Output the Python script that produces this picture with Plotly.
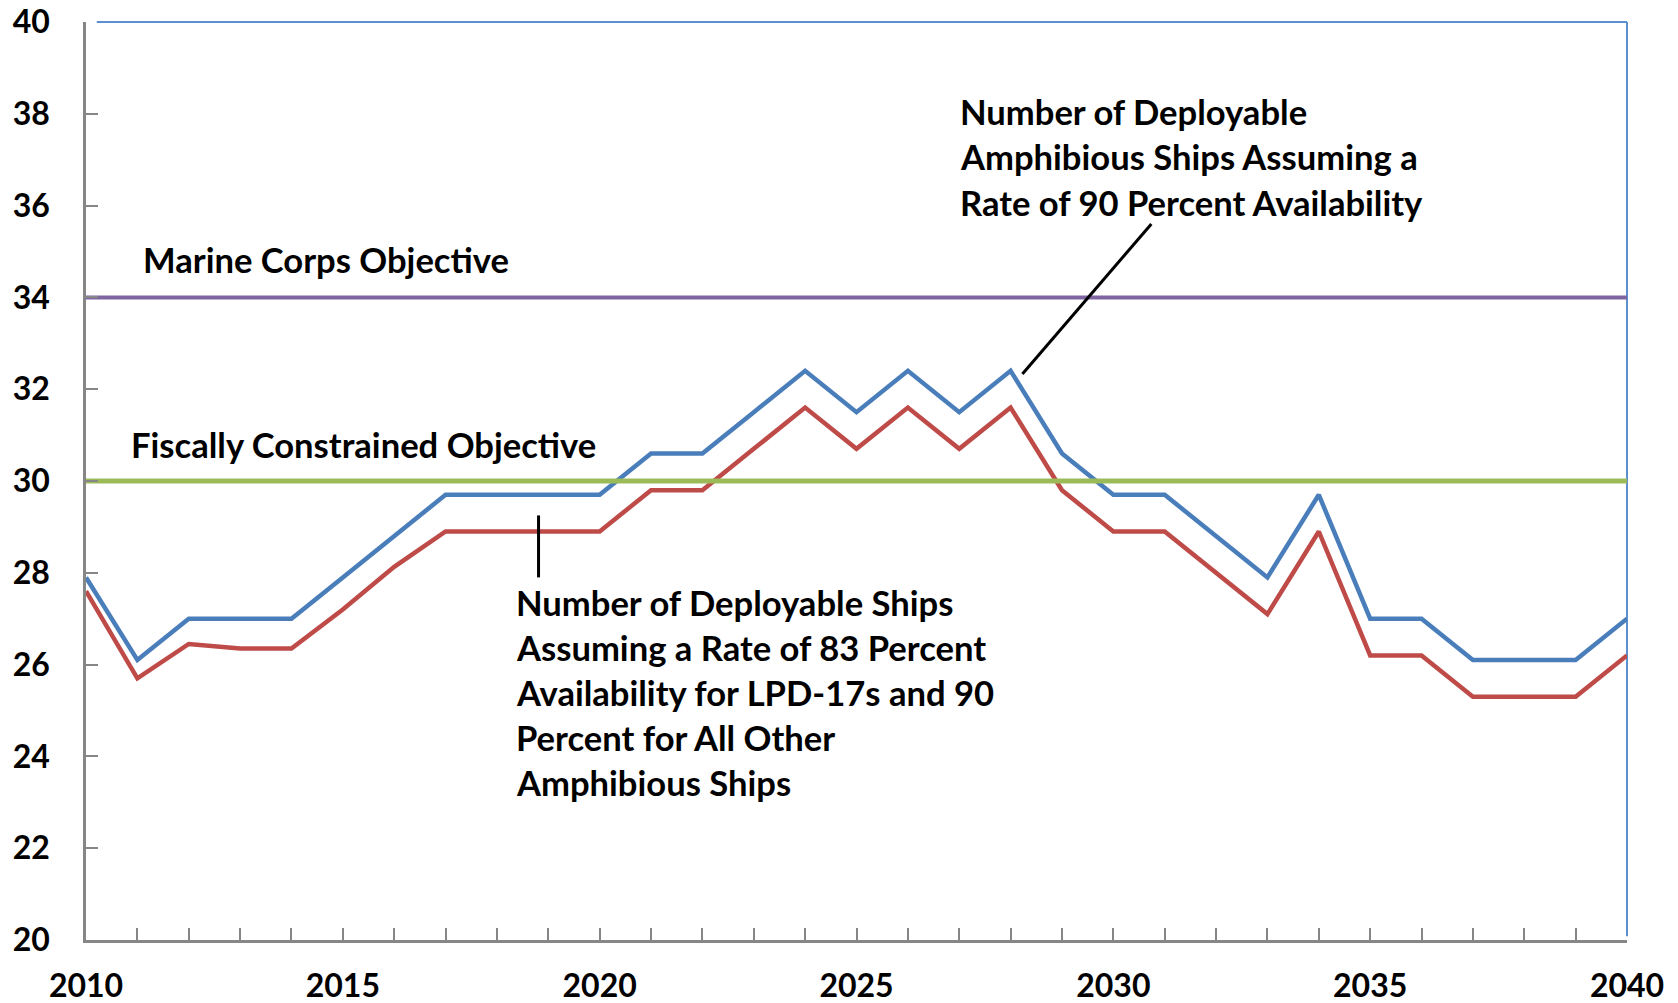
import plotly.graph_objects as go

years = list(range(2010, 2041))
deployable_90 = [27.9, 26.1, 27.0, 27.0, 27.0, 27.9, 28.8, 29.7, 29.7, 29.7, 29.7,
                 30.6, 30.6, 31.5, 32.4, 31.5, 32.4, 31.5, 32.4, 30.6, 29.7,
                 29.7, 28.8, 27.9, 29.7, 27.0, 27.0, 26.1, 26.1, 26.1, 27.0]
deployable_83 = [27.6, 25.7, 26.45, 26.35, 26.35, 27.2, 28.13, 28.9, 28.9, 28.9, 28.9,
                 29.8, 29.8, 30.7, 31.6, 30.7, 31.6, 30.7, 31.6, 29.8, 28.9,
                 28.9, 28.0, 27.1, 28.9, 26.2, 26.2, 25.3, 25.3, 25.3, 26.2]
marine_corps_objective = 34
fiscal_objective = 30
x_tick_labels = [str(y) if y % 5 == 0 else "" for y in years]
y_tick_vals = list(range(20, 41, 2))

FONT = "Lato"
BLUE = "#4A7EBB"
RED = "#BE4B48"
GREEN = "#9BBB59"
PURPLE = "#8064A2"

fig = go.Figure()
fig.add_trace(go.Scatter(x=years, y=deployable_90, mode="lines",
                         line=dict(color=BLUE, width=4.5), hoverinfo="skip"))
fig.add_trace(go.Scatter(x=years, y=deployable_83, mode="lines",
                         line=dict(color=RED, width=4.5), hoverinfo="skip"))
fig.add_trace(go.Scatter(x=[years[0], years[-1]], y=[marine_corps_objective] * 2, mode="lines",
                         line=dict(color=PURPLE, width=4), hoverinfo="skip"))
fig.add_trace(go.Scatter(x=[years[0], years[-1]], y=[fiscal_objective] * 2, mode="lines",
                         line=dict(color=GREEN, width=5), hoverinfo="skip"))

ann_font = dict(family=FONT, size=34.6, color="black", weight="bold")

def add_text(text, x, y):
    fig.add_annotation(x=x, y=y, xref="x", yref="y", text=text, showarrow=False,
                       xanchor="left", yanchor="middle", font=ann_font)

add_text("Marine Corps Objective", 2011.08, 34.83)
add_text("Fiscally Constrained Objective", 2010.83, 30.8)
for line, yv in zip(["Number of Deployable", "Amphibious Ships Assuming a",
                     "Rate of 90 Percent Availability"], [38.04, 37.06, 36.07]):
    add_text(line, 2026.97, yv)
for line, yv in zip(["Number of Deployable Ships", "Assuming a Rate of 83 Percent",
                     "Availability for LPD-17s and 90", "Percent for All Other",
                     "Amphibious Ships"], [27.36, 26.38, 25.40, 24.42, 23.44]):
    add_text(line, 2018.34, yv)

# leader lines
fig.add_shape(type="line", xref="x", yref="y", x0=2018.81, y0=29.25, x1=2018.81, y1=27.9,
              line=dict(color="black", width=3))
fig.add_shape(type="line", xref="x", yref="y", x0=2030.74, y0=35.6, x1=2028.23, y1=32.33,
              line=dict(color="black", width=3))
# plot-area top and right border
fig.add_shape(type="line", xref="paper", yref="paper", x0=0.007, y0=1, x1=1, y1=1,
              line=dict(color="#5B8FD0", width=2), layer="below")
fig.add_shape(type="line", xref="paper", yref="paper", x0=1, y0=0.004, x1=1, y1=1,
              line=dict(color="#5B8FD0", width=2), layer="below")

fig.update_layout(
    width=1670, height=995,
    margin=dict(l=78, r=51, t=14, b=63, autoexpand=False),
    paper_bgcolor="white", plot_bgcolor="white",
    showlegend=False,
    font=dict(family=FONT, color="black"),
    xaxis=dict(range=[2010, 2040], tickvals=years, ticktext=x_tick_labels,
               ticks="inside", ticklen=12, tickwidth=2, tickcolor="#868686",
               showline=True, linecolor="#868686", linewidth=2.5,
               showgrid=False, zeroline=False, ticklabelstandoff=16, automargin=False,
               ticklabeloverflow="allow",
               tickfont=dict(family=FONT, size=32, color="black", weight="bold")),
    yaxis=dict(range=[20, 40], tickvals=y_tick_vals,
               ticks="inside", ticklen=12, tickwidth=2, tickcolor="#868686",
               showline=True, linecolor="#868686", linewidth=2.5,
               showgrid=False, zeroline=False, ticklabelstandoff=27, automargin=False,
               ticklabeloverflow="allow",
               tickfont=dict(family=FONT, size=32, color="black", weight="bold")),
)

fig.write_html("out.html")
